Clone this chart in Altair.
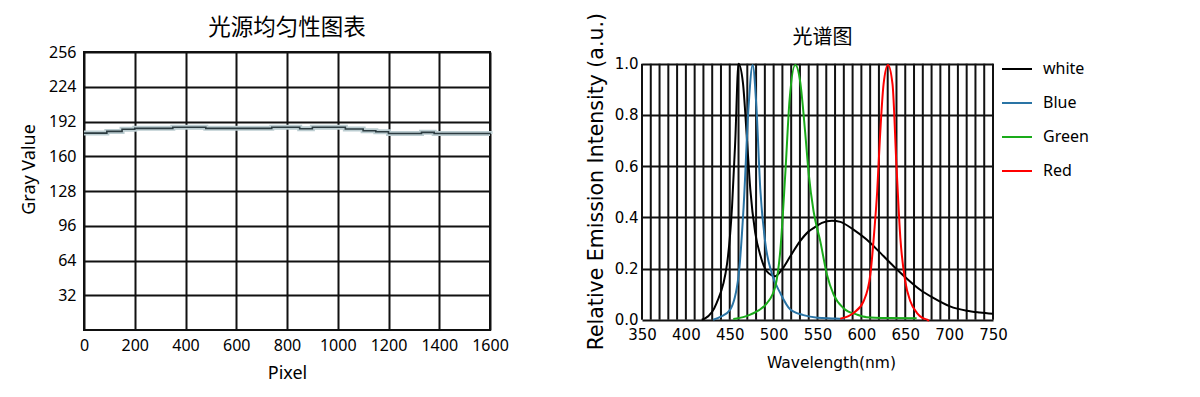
import altair as alt
import pandas as pd

# ---------------- data: left chart (light-source uniformity) ----------------
pixel = [0, 90, 150, 200, 350, 480, 740, 850, 900, 1030, 1100, 1150, 1200, 1330, 1380, 1600]
gray = [181.3, 182.9, 184.8, 185.7, 186.7, 185.7, 186.7, 185.3, 186.7, 185.1, 183.5, 182.6, 181.0, 182.0, 181.0, 180.5]
gray_ticks = [32, 64, 96, 128, 160, 192, 224, 256]
pixel_ticks = [0, 200, 400, 600, 800, 1000, 1200, 1400, 1600]

# ---------------- data: right chart (spectrum) ----------------
white_nm = [418, 422, 435, 447, 452.6, 456.3, 460, 465, 469.7, 473.4, 479, 485, 492, 502, 509.5, 519, 530, 540, 545.5, 555, 566.5, 576, 591, 606, 621.6, 636.7, 652, 667, 682, 701, 720, 735, 750]
white_val = [0.0, 0.005, 0.065, 0.22, 0.44, 0.70, 1.0, 0.926, 0.70, 0.51, 0.34, 0.25, 0.19, 0.17, 0.196, 0.248, 0.306, 0.345, 0.358, 0.378, 0.387, 0.382, 0.352, 0.313, 0.261, 0.209, 0.160, 0.117, 0.085, 0.052, 0.035, 0.028, 0.023]

blue_nm = [431, 440, 450.6, 460, 465.8, 471.5, 476.1, 480.3, 484.8, 490.5, 498, 507.6, 519, 534, 550, 570, 580]
blue_val = [0.0, 0.012, 0.04, 0.17, 0.44, 0.835, 0.995, 0.835, 0.51, 0.30, 0.18, 0.104, 0.04, 0.018, 0.008, 0.005, 0.003]

green_nm = [454, 473.4, 492.4, 501.9, 507.6, 513.3, 518.2, 524.7, 530.4, 536, 540, 545.5, 553.2, 560.8, 568.4, 579.7, 595, 606, 630, 663]
green_val = [0.003, 0.02, 0.065, 0.13, 0.27, 0.57, 0.86, 0.995, 0.926, 0.73, 0.57, 0.424, 0.306, 0.176, 0.098, 0.045, 0.02, 0.01, 0.007, 0.006]

red_nm = [576, 591, 602.5, 610.2, 614.7, 618, 621, 625.3, 630.3, 635.5, 640, 644.4, 650, 655.8, 663.4, 670, 675, 677]
red_val = [0.004, 0.026, 0.072, 0.176, 0.345, 0.50, 0.70, 0.92, 0.995, 0.92, 0.60, 0.32, 0.15, 0.072, 0.026, 0.006, 0.0, -0.005]

series_names = ["white", "Blue", "Green", "Red"]
series_colors = ["#000000", "#2a74a5", "#1aab1a", "#ff0000"]
wl_grid = list(range(350, 751, 10))
wl_labels = [350, 400, 450, 500, 550, 600, 650, 700, 750]
intensity_ticks = [0.0, 0.2, 0.4, 0.6, 0.8, 1.0]

# ---------------- tables ----------------
gray_df = pd.DataFrame({"Pixel": pixel, "Gray": gray})

rows = []
for name, xs, ys in [("white", white_nm, white_val), ("Blue", blue_nm, blue_val),
                     ("Green", green_nm, green_val), ("Red", red_nm, red_val)]:
    for i, (a, b) in enumerate(zip(xs, ys)):
        rows.append({"series": name, "nm": a, "val": b, "order": i})
spec_df = pd.DataFrame(rows)
grid_df = pd.DataFrame({"nm": wl_grid})

LATIN = "Noto Sans"
CJK = "Noto Sans CJK SC"
MPL = "DejaVu Sans"
GRID = "#111111"

# ---------------- left chart ----------------
lx = alt.X("Pixel:Q", scale=alt.Scale(domain=[0, 1600], nice=False),
           axis=alt.Axis(values=pixel_ticks, tickCount=len(pixel_ticks), format="d",
                         title="Pixel", grid=True,
                         gridColor=GRID, gridWidth=2, gridOpacity=1, ticks=False, domain=False,
                         labelFont=LATIN, labelFontSize=16, labelColor="#000", labelPadding=7,
                         labelFlush=False, labelOverlap=False,
                         titleFont=LATIN, titleFontSize=18, titleFontWeight="normal",
                         titleColor="#000", titlePadding=11))
ly = alt.Y("Gray:Q", scale=alt.Scale(domain=[0, 256], nice=False),
           axis=alt.Axis(values=gray_ticks, tickCount=len(gray_ticks), title="Gray Value",
                         grid=True, gridColor=GRID,
                         gridWidth=2, gridOpacity=1, ticks=False, domain=False,
                         labelFont=LATIN, labelFontSize=16, labelColor="#000", labelPadding=8,
                         labelOverlap=False, labelFlush=False,
                         titleFont=LATIN, titleFontSize=18, titleFontWeight="normal",
                         titleColor="#000", titlePadding=10, titleY=117))

band = alt.Chart(gray_df).mark_line(interpolate="step-after", color="#bccdd1",
                                    strokeWidth=5).encode(x=lx, y=ly)
dark = alt.Chart(gray_df).mark_line(interpolate="step-after", color="#2b3b40",
                                    strokeWidth=1.6).encode(x=lx, y=ly)
left = alt.layer(band, dark).properties(
    width=406, height=278,
    view=alt.ViewBackground(stroke=GRID, strokeWidth=2),
    title=alt.TitleParams("光源均匀性图表", font=CJK, fontSize=22.5, fontWeight="normal",
                          color="#000", offset=11, dy=6, frame="group")
)

# ---------------- right chart ----------------
R_H = 256
R_TOP = 11.7  # plot area of this panel starts lower than the left one
rx = alt.X("nm:Q", scale=alt.Scale(domain=[350, 750], nice=False),
           axis=alt.Axis(values=wl_labels, tickCount=len(wl_labels),
                         title="Wavelength(nm)", grid=False, ticks=False, domain=False,
                         labelFont=MPL, labelFontSize=15, labelColor="#000", labelPadding=8,
                         labelFlush=False, labelOverlap=False,
                         titleFont=MPL, titleFontSize=15.5, titleFontWeight="normal",
                         titleColor="#000", titlePadding=13, titleX=189))
ry = alt.Y("val:Q", scale=alt.Scale(domain=[0, 1], nice=False, range=[R_H + R_TOP, R_TOP]),
           axis=alt.Axis(values=intensity_ticks, tickCount=len(intensity_ticks), format=".1f",
                         title="Relative Emission Intensity (a.u.)", grid=True,
                         gridColor=GRID, gridWidth=2, gridOpacity=1, ticks=False, domain=False,
                         labelFont=MPL, labelFontSize=15, labelColor="#000", labelPadding=4,
                         labelOverlap=False, labelFlush=False,
                         titleFont=MPL, titleFontSize=20.5, titleFontWeight="normal",
                         titleColor="#000", titlePadding=8, titleY=R_TOP + 128 - 10.5))

vgrid = alt.Chart(grid_df).mark_rule(color=GRID, strokeWidth=2).encode(
    x=rx, y=alt.datum(0.0), y2=alt.datum(1.0)
)

spectra = alt.Chart(spec_df).mark_line(interpolate="monotone", strokeWidth=2).encode(
    x=rx, y=ry,
    order="order:Q",
    color=alt.Color("series:N",
                    scale=alt.Scale(domain=series_names, range=series_colors),
                    sort=series_names,
                    legend=alt.Legend(title=None, orient="none", legendX=359, legendY=1,
                                      symbolType="stroke", symbolSize=900,
                                      symbolStrokeWidth=2, labelFont=LATIN, labelFontSize=16,
                                      labelColor="#000", labelOffset=10, rowPadding=10,
                                      padding=0)),
)

right = alt.layer(vgrid, spectra).properties(
    width=351, height=R_H + R_TOP,
    view=alt.ViewBackground(stroke="transparent"),
    title=alt.TitleParams("光谱图", font=CJK, fontSize=20, fontWeight="normal",
                          color="#000", offset=3, dx=5, dy=38, frame="group")
)

chart = alt.hconcat(left, right, spacing=75).resolve_legend(
    color="independent"
).configure(padding={"left": 11, "top": 4, "right": 5, "bottom": 5})

chart.save("out.html", embed_options={"renderer": "svg", "actions": False})
